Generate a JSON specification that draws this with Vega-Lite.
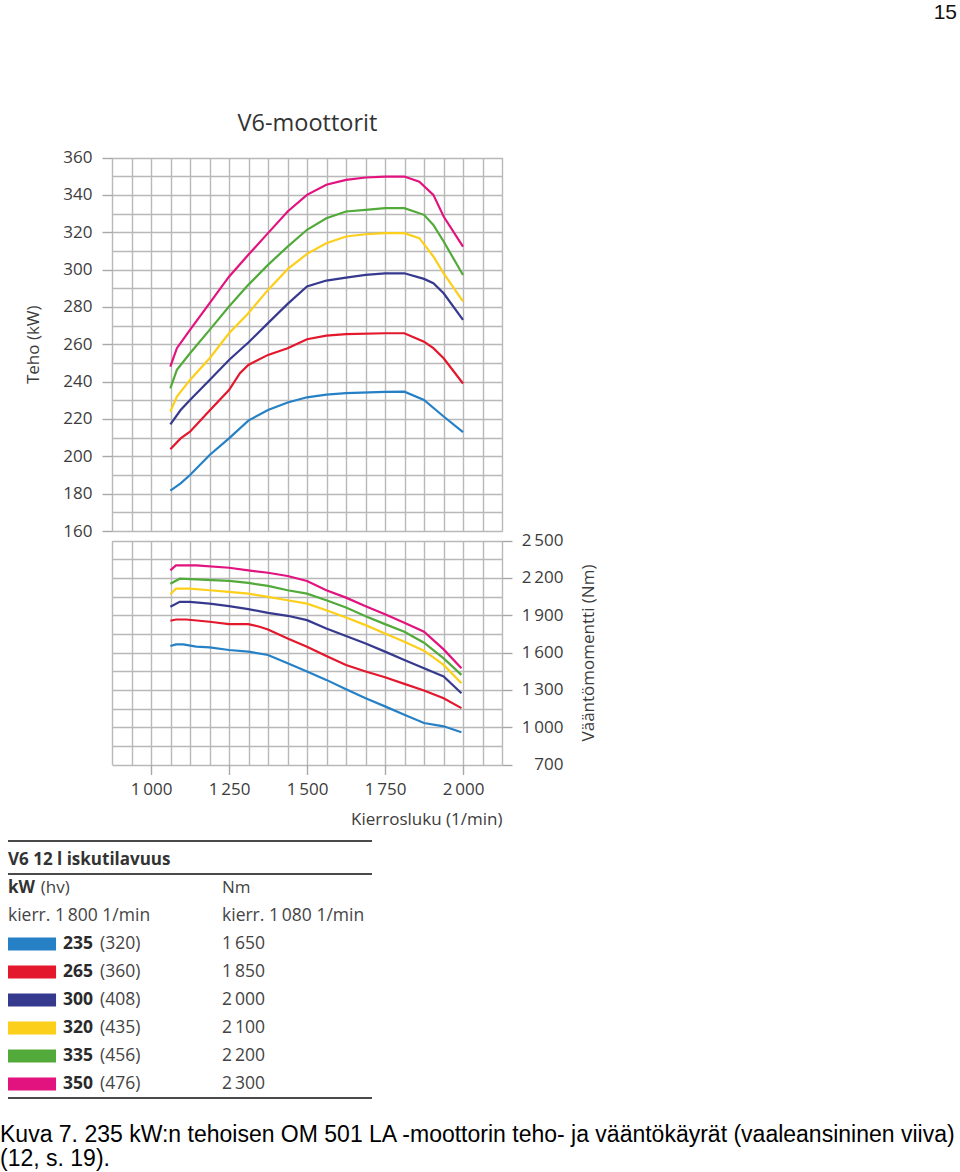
{
  "$schema": "https://vega.github.io/schema/vega-lite/v6.json",
  "width": 960,
  "height": 1172,
  "autosize": {"type": "none"},
  "padding": 0,
  "background": "white",
  "config": {
    "view": {"stroke": null},
    "locale": {"number": {"decimal": ",", "thousands": "\u2009", "grouping": [3], "currency": ["", " €"]}},
    "font": "Open Sans",
    "axis": {
      "labelFont": "Open Sans", "titleFont": "Open Sans",
      "labelFontSize": 17, "titleFontSize": 17, "titleFontWeight": "normal",
      "labelColor": "#3c3c3c", "titleColor": "#3c3c3c",
      "gridColor": "#b8b8b8", "gridWidth": 1.4, "gridOpacity": 1,
      "tickColor": "#a8a8a8", "tickWidth": 1.4
    }
  },
  "title": {
    "text": "15", "orient": "top", "anchor": "end", "frame": "group",
    "offset": -40, "baseline": "alphabetic", "dx": -3,
    "font": "Liberation Sans", "fontSize": 21, "fontWeight": "normal", "color": "#111"
  },
  "datasets": {
    "power": [
      {"engine": "235", "rpm": 1062, "kw": 181.6}, {"engine": "235", "rpm": 1095, "kw": 185.5}, {"engine": "235", "rpm": 1125, "kw": 190}, {"engine": "235", "rpm": 1188, "kw": 200.7}, {"engine": "235", "rpm": 1250, "kw": 209.6}, {"engine": "235", "rpm": 1312, "kw": 219.1}, {"engine": "235", "rpm": 1375, "kw": 224.8}, {"engine": "235", "rpm": 1438, "kw": 228.8}, {"engine": "235", "rpm": 1500, "kw": 231.6}, {"engine": "235", "rpm": 1562, "kw": 233}, {"engine": "235", "rpm": 1625, "kw": 233.8}, {"engine": "235", "rpm": 1750, "kw": 234.5}, {"engine": "235", "rpm": 1812, "kw": 234.6}, {"engine": "235", "rpm": 1875, "kw": 230.2}, {"engine": "235", "rpm": 1938, "kw": 221.3}, {"engine": "235", "rpm": 2000, "kw": 212.9},
      {"engine": "265", "rpm": 1062, "kw": 203.8}, {"engine": "265", "rpm": 1095, "kw": 209.6}, {"engine": "265", "rpm": 1125, "kw": 213.2}, {"engine": "265", "rpm": 1188, "kw": 224.5}, {"engine": "265", "rpm": 1250, "kw": 235.5}, {"engine": "265", "rpm": 1285, "kw": 244.5}, {"engine": "265", "rpm": 1312, "kw": 248.9}, {"engine": "265", "rpm": 1375, "kw": 254.3}, {"engine": "265", "rpm": 1438, "kw": 257.9}, {"engine": "265", "rpm": 1500, "kw": 262.7}, {"engine": "265", "rpm": 1562, "kw": 264.6}, {"engine": "265", "rpm": 1625, "kw": 265.4}, {"engine": "265", "rpm": 1750, "kw": 265.9}, {"engine": "265", "rpm": 1812, "kw": 265.9}, {"engine": "265", "rpm": 1875, "kw": 261.4}, {"engine": "265", "rpm": 1905, "kw": 257.9}, {"engine": "265", "rpm": 1938, "kw": 252.5}, {"engine": "265", "rpm": 2000, "kw": 239},
      {"engine": "300", "rpm": 1062, "kw": 217.1}, {"engine": "300", "rpm": 1095, "kw": 224.8}, {"engine": "300", "rpm": 1125, "kw": 230.2}, {"engine": "300", "rpm": 1188, "kw": 240.9}, {"engine": "300", "rpm": 1250, "kw": 251.6}, {"engine": "300", "rpm": 1312, "kw": 260.9}, {"engine": "300", "rpm": 1375, "kw": 271.3}, {"engine": "300", "rpm": 1438, "kw": 281.6}, {"engine": "300", "rpm": 1500, "kw": 290.9}, {"engine": "300", "rpm": 1562, "kw": 294.1}, {"engine": "300", "rpm": 1625, "kw": 295.7}, {"engine": "300", "rpm": 1688, "kw": 297.1}, {"engine": "300", "rpm": 1750, "kw": 298}, {"engine": "300", "rpm": 1812, "kw": 298}, {"engine": "300", "rpm": 1875, "kw": 295}, {"engine": "300", "rpm": 1905, "kw": 292.7}, {"engine": "300", "rpm": 1938, "kw": 287.3}, {"engine": "300", "rpm": 2000, "kw": 273},
      {"engine": "320", "rpm": 1062, "kw": 223.9}, {"engine": "320", "rpm": 1083, "kw": 232}, {"engine": "320", "rpm": 1125, "kw": 240.9}, {"engine": "320", "rpm": 1188, "kw": 252.5}, {"engine": "320", "rpm": 1250, "kw": 265.9}, {"engine": "320", "rpm": 1312, "kw": 276.6}, {"engine": "320", "rpm": 1375, "kw": 289.1}, {"engine": "320", "rpm": 1438, "kw": 300.2}, {"engine": "320", "rpm": 1500, "kw": 308.4}, {"engine": "320", "rpm": 1562, "kw": 314.1}, {"engine": "320", "rpm": 1625, "kw": 317.7}, {"engine": "320", "rpm": 1688, "kw": 318.9}, {"engine": "320", "rpm": 1750, "kw": 319.5}, {"engine": "320", "rpm": 1812, "kw": 319.5}, {"engine": "320", "rpm": 1860, "kw": 316.8}, {"engine": "320", "rpm": 1905, "kw": 307}, {"engine": "320", "rpm": 1938, "kw": 298}, {"engine": "320", "rpm": 2000, "kw": 282.9},
      {"engine": "335", "rpm": 1062, "kw": 236.4}, {"engine": "335", "rpm": 1083, "kw": 246.3}, {"engine": "335", "rpm": 1125, "kw": 255.2}, {"engine": "335", "rpm": 1188, "kw": 267.7}, {"engine": "335", "rpm": 1250, "kw": 280.2}, {"engine": "335", "rpm": 1312, "kw": 291.8}, {"engine": "335", "rpm": 1375, "kw": 302.5}, {"engine": "335", "rpm": 1438, "kw": 312.3}, {"engine": "335", "rpm": 1500, "kw": 321.3}, {"engine": "335", "rpm": 1562, "kw": 327.5}, {"engine": "335", "rpm": 1625, "kw": 331.1}, {"engine": "335", "rpm": 1688, "kw": 332}, {"engine": "335", "rpm": 1750, "kw": 332.9}, {"engine": "335", "rpm": 1812, "kw": 332.9}, {"engine": "335", "rpm": 1875, "kw": 329.3}, {"engine": "335", "rpm": 1905, "kw": 323.9}, {"engine": "335", "rpm": 1938, "kw": 315}, {"engine": "335", "rpm": 2000, "kw": 297.1},
      {"engine": "350", "rpm": 1062, "kw": 248}, {"engine": "350", "rpm": 1083, "kw": 257.9}, {"engine": "350", "rpm": 1125, "kw": 267.7}, {"engine": "350", "rpm": 1188, "kw": 282}, {"engine": "350", "rpm": 1250, "kw": 296.2}, {"engine": "350", "rpm": 1312, "kw": 307.9}, {"engine": "350", "rpm": 1375, "kw": 319.5}, {"engine": "350", "rpm": 1438, "kw": 331.1}, {"engine": "350", "rpm": 1500, "kw": 340}, {"engine": "350", "rpm": 1562, "kw": 345.4}, {"engine": "350", "rpm": 1625, "kw": 348}, {"engine": "350", "rpm": 1688, "kw": 349.3}, {"engine": "350", "rpm": 1750, "kw": 349.8}, {"engine": "350", "rpm": 1812, "kw": 349.8}, {"engine": "350", "rpm": 1860, "kw": 347.1}, {"engine": "350", "rpm": 1905, "kw": 340}, {"engine": "350", "rpm": 1938, "kw": 328.4}, {"engine": "350", "rpm": 2000, "kw": 312.3}
    ],
    "torque": [
      {"engine": "235", "rpm": 1062, "nm": 1652}, {"engine": "235", "rpm": 1080, "nm": 1665}, {"engine": "235", "rpm": 1103, "nm": 1665}, {"engine": "235", "rpm": 1145, "nm": 1647}, {"engine": "235", "rpm": 1188, "nm": 1641}, {"engine": "235", "rpm": 1250, "nm": 1620}, {"engine": "235", "rpm": 1312, "nm": 1607}, {"engine": "235", "rpm": 1375, "nm": 1580}, {"engine": "235", "rpm": 1438, "nm": 1513}, {"engine": "235", "rpm": 1500, "nm": 1447}, {"engine": "235", "rpm": 1562, "nm": 1380}, {"engine": "235", "rpm": 1625, "nm": 1305}, {"engine": "235", "rpm": 1688, "nm": 1233}, {"engine": "235", "rpm": 1750, "nm": 1167}, {"engine": "235", "rpm": 1812, "nm": 1100}, {"engine": "235", "rpm": 1875, "nm": 1033}, {"engine": "235", "rpm": 1938, "nm": 1007}, {"engine": "235", "rpm": 1995, "nm": 959},
      {"engine": "265", "rpm": 1062, "nm": 1855}, {"engine": "265", "rpm": 1080, "nm": 1865}, {"engine": "265", "rpm": 1113, "nm": 1865}, {"engine": "265", "rpm": 1188, "nm": 1847}, {"engine": "265", "rpm": 1250, "nm": 1828}, {"engine": "265", "rpm": 1312, "nm": 1828}, {"engine": "265", "rpm": 1348, "nm": 1807}, {"engine": "265", "rpm": 1375, "nm": 1785}, {"engine": "265", "rpm": 1438, "nm": 1713}, {"engine": "265", "rpm": 1500, "nm": 1647}, {"engine": "265", "rpm": 1562, "nm": 1572}, {"engine": "265", "rpm": 1625, "nm": 1500}, {"engine": "265", "rpm": 1688, "nm": 1447}, {"engine": "265", "rpm": 1750, "nm": 1401}, {"engine": "265", "rpm": 1812, "nm": 1348}, {"engine": "265", "rpm": 1875, "nm": 1295}, {"engine": "265", "rpm": 1938, "nm": 1233}, {"engine": "265", "rpm": 1995, "nm": 1153},
      {"engine": "300", "rpm": 1062, "nm": 1967}, {"engine": "300", "rpm": 1092, "nm": 2007}, {"engine": "300", "rpm": 1124, "nm": 2007}, {"engine": "300", "rpm": 1188, "nm": 1993}, {"engine": "300", "rpm": 1250, "nm": 1972}, {"engine": "300", "rpm": 1312, "nm": 1948}, {"engine": "300", "rpm": 1375, "nm": 1919}, {"engine": "300", "rpm": 1438, "nm": 1895}, {"engine": "300", "rpm": 1500, "nm": 1860}, {"engine": "300", "rpm": 1562, "nm": 1793}, {"engine": "300", "rpm": 1625, "nm": 1732}, {"engine": "300", "rpm": 1688, "nm": 1673}, {"engine": "300", "rpm": 1750, "nm": 1607}, {"engine": "300", "rpm": 1812, "nm": 1540}, {"engine": "300", "rpm": 1875, "nm": 1473}, {"engine": "300", "rpm": 1938, "nm": 1407}, {"engine": "300", "rpm": 1995, "nm": 1273},
      {"engine": "320", "rpm": 1062, "nm": 2068}, {"engine": "320", "rpm": 1080, "nm": 2113}, {"engine": "320", "rpm": 1124, "nm": 2113}, {"engine": "320", "rpm": 1188, "nm": 2100}, {"engine": "320", "rpm": 1250, "nm": 2087}, {"engine": "320", "rpm": 1312, "nm": 2073}, {"engine": "320", "rpm": 1375, "nm": 2047}, {"engine": "320", "rpm": 1438, "nm": 2020}, {"engine": "320", "rpm": 1500, "nm": 1993}, {"engine": "320", "rpm": 1562, "nm": 1940}, {"engine": "320", "rpm": 1625, "nm": 1881}, {"engine": "320", "rpm": 1688, "nm": 1820}, {"engine": "320", "rpm": 1750, "nm": 1753}, {"engine": "320", "rpm": 1812, "nm": 1687}, {"engine": "320", "rpm": 1875, "nm": 1615}, {"engine": "320", "rpm": 1938, "nm": 1500}, {"engine": "320", "rpm": 1995, "nm": 1353},
      {"engine": "335", "rpm": 1062, "nm": 2153}, {"engine": "335", "rpm": 1092, "nm": 2193}, {"engine": "335", "rpm": 1145, "nm": 2188}, {"engine": "335", "rpm": 1250, "nm": 2175}, {"engine": "335", "rpm": 1312, "nm": 2159}, {"engine": "335", "rpm": 1375, "nm": 2135}, {"engine": "335", "rpm": 1438, "nm": 2100}, {"engine": "335", "rpm": 1500, "nm": 2073}, {"engine": "335", "rpm": 1562, "nm": 2020}, {"engine": "335", "rpm": 1625, "nm": 1961}, {"engine": "335", "rpm": 1688, "nm": 1892}, {"engine": "335", "rpm": 1750, "nm": 1828}, {"engine": "335", "rpm": 1812, "nm": 1767}, {"engine": "335", "rpm": 1875, "nm": 1679}, {"engine": "335", "rpm": 1938, "nm": 1553}, {"engine": "335", "rpm": 1995, "nm": 1420},
      {"engine": "350", "rpm": 1062, "nm": 2260}, {"engine": "350", "rpm": 1080, "nm": 2300}, {"engine": "350", "rpm": 1145, "nm": 2300}, {"engine": "350", "rpm": 1250, "nm": 2281}, {"engine": "350", "rpm": 1312, "nm": 2260}, {"engine": "350", "rpm": 1375, "nm": 2241}, {"engine": "350", "rpm": 1438, "nm": 2215}, {"engine": "350", "rpm": 1500, "nm": 2175}, {"engine": "350", "rpm": 1562, "nm": 2100}, {"engine": "350", "rpm": 1625, "nm": 2041}, {"engine": "350", "rpm": 1688, "nm": 1972}, {"engine": "350", "rpm": 1750, "nm": 1908}, {"engine": "350", "rpm": 1812, "nm": 1839}, {"engine": "350", "rpm": 1875, "nm": 1767}, {"engine": "350", "rpm": 1938, "nm": 1625}, {"engine": "350", "rpm": 1995, "nm": 1473}
    ],
    "legend": [
      {"engine": "235", "kw": 235, "hv": 320, "nm": 1650},
      {"engine": "265", "kw": 265, "hv": 360, "nm": 1850},
      {"engine": "300", "kw": 300, "hv": 408, "nm": 2000},
      {"engine": "320", "kw": 320, "hv": 435, "nm": 2100},
      {"engine": "335", "kw": 335, "hv": 456, "nm": 2200},
      {"engine": "350", "kw": 350, "hv": 476, "nm": 2300}
    ],
    "caption": [
      {"line": 1, "text": "Kuva 7. 235 kW:n tehoisen OM 501 LA -moottorin teho- ja vääntökäyrät (vaaleansininen viiva)"},
      {"line": 2, "text": "(12, s. 19)."}
    ]
  },
  "layer": [
    {
      "data": {"name": "power"},
      "mark": {"type": "line", "strokeWidth": 2.2},
      "encoding": {
        "x": {
          "field": "rpm", "type": "quantitative",
          "scale": {"domain": [875, 2125], "range": [112, 502], "nice": false, "zero": false},
          "axis": {
            "orient": "top", "offset": -157.5,
            "values": [875, 937.5, 1000, 1062.5, 1125, 1187.5, 1250, 1312.5, 1375, 1437.5, 1500, 1562.5, 1625, 1687.5, 1750, 1812.5, 1875, 1937.5, 2000, 2062.5, 2125],
            "grid": true, "labels": false, "ticks": false, "domain": false,
            "title": "V6-moottorit", "titlePadding": 22, "titleFontSize": 23.5, "titleColor": "#333"
          }
        },
        "y": {
          "field": "kw", "type": "quantitative",
          "scale": {"domain": [160, 360], "range": [531, 157.5], "nice": false, "zero": false},
          "axis": {
            "orient": "left", "offset": -112,
            "values": [160, 170, 180, 190, 200, 210, 220, 230, 240, 250, 260, 270, 280, 290, 300, 310, 320, 330, 340, 350, 360],
            "grid": true, "domain": false, "tickSize": 10,
            "tickOpacity": {"condition": {"test": "datum.value % 20 == 0", "value": 1}, "value": 0},
            "labelExpr": "datum.value % 20 == 0 ? datum.label : ''",
            "labelPadding": 10, "labelFontSize": 17,
            "title": "Teho (kW)", "titlePadding": 20
          }
        },
        "color": {
          "field": "engine", "type": "nominal",
          "scale": {"domain": ["235", "265", "300", "320", "335", "350"], "range": ["#2680c6", "#e3182d", "#363a8e", "#fccf1a", "#52aa3a", "#e2137f"]},
          "legend": null
        }
      }
    },
    {
      "data": {"name": "torque"},
      "layer": [
        {
          "mark": {"type": "line", "opacity": 0},
          "encoding": {
            "x": {
              "field": "rpm", "type": "quantitative",
              "scale": {"domain": [875, 2125], "range": [112, 502], "nice": false, "zero": false},
              "axis": {
                "orient": "top",
                "values": [875, 937.5, 1000, 1062.5, 1125, 1187.5, 1250, 1312.5, 1375, 1437.5, 1500, 1562.5, 1625, 1687.5, 1750, 1812.5, 1875, 1937.5, 2000, 2062.5, 2125],
                "grid": true, "labels": false, "ticks": false, "domain": false, "title": null
              }
            },
            "y": {
              "field": "nm", "type": "quantitative",
              "scale": {"domain": [700, 2500], "range": [764.5, 540.5], "nice": false, "zero": false},
              "axis": {
                "orient": "left",
                "values": [700, 850, 1000, 1150, 1300, 1450, 1600, 1750, 1900, 2050, 2200, 2350, 2500],
                "grid": true, "labels": false, "ticks": false, "domain": false, "title": null
              }
            }
          }
        },
        {
          "mark": {"type": "line", "strokeWidth": 2.2},
          "encoding": {
            "x": {
              "field": "rpm", "type": "quantitative",
              "scale": {"domain": [875, 2125], "range": [112, 502], "nice": false, "zero": false},
              "axis": {
                "orient": "bottom", "offset": -407.5,
                "values": [1000, 1250, 1500, 1750, 2000], "format": ",d",
                "grid": false, "domain": false, "tickSize": 10, "labelPadding": 7,
                "title": "Kierrosluku (1/min)", "titleAnchor": "end", "titlePadding": 14
              }
            },
            "y": {
              "field": "nm", "type": "quantitative",
              "scale": {"domain": [700, 2500], "range": [764.5, 540.5], "nice": false, "zero": false},
              "axis": {
                "orient": "right", "offset": -458,
                "values": [700, 1000, 1300, 1600, 1900, 2200, 2500], "format": ",d",
                "grid": false, "domain": false, "tickSize": 10,
                "labelAlign": "right", "labelPadding": 51, "labelBaseline": "middle",
                "title": "Vääntömomentti (Nm)", "titleAngle": 270, "titleBaseline": "top", "titlePadding": 17
              }
            },
            "color": {
              "field": "engine", "type": "nominal",
              "scale": {"domain": ["235", "265", "300", "320", "335", "350"], "range": ["#2680c6", "#e3182d", "#363a8e", "#fccf1a", "#52aa3a", "#e2137f"]},
              "legend": null
            }
          }
        }
      ],
      "resolve": {"scale": {"x": "shared", "y": "shared"}, "axis": {"x": "independent", "y": "independent"}}
    },
    {
      "data": {"name": "legend"},
      "layer": [
        {
          "mark": {"type": "bar", "height": {"band": 0.47}},
          "encoding": {
            "x": {"datum": 0, "type": "quantitative", "scale": {"domain": [0, 1], "range": [8, 372], "nice": false, "zero": false}, "axis": null},
            "x2": {"datum": 0.132},
            "y": {"field": "engine", "type": "nominal", "scale": {"type": "band", "domain": ["title", "head1", "head2", "235", "265", "300", "320", "335", "350"], "range": [846, 1098], "paddingInner": 0, "paddingOuter": 0}, "axis": null},
            "color": {
              "field": "engine", "type": "nominal",
              "scale": {"domain": ["235", "265", "300", "320", "335", "350"], "range": ["#1c78c0", "#e30b1c", "#2e3288", "#ffcc05", "#4fa93a", "#e2097e"]},
              "legend": null
            }
          }
        },
        {
          "mark": {"type": "text", "align": "left", "baseline": "middle", "font": "Open Sans", "fontSize": 17.5, "fontWeight": "bold", "color": "#2a2a2a"},
          "encoding": {
            "x": {"datum": 0.151, "type": "quantitative", "axis": null},
            "y": {"field": "engine", "type": "nominal", "axis": null},
            "text": {"field": "kw", "type": "quantitative", "format": "d"}
          }
        },
        {
          "mark": {"type": "text", "align": "left", "baseline": "middle", "font": "Open Sans", "fontSize": 17.5, "color": "#444", "text": {"expr": "'(' + datum.hv + ')'"}},
          "encoding": {
            "x": {"datum": 0.253, "type": "quantitative", "axis": null},
            "y": {"field": "engine", "type": "nominal", "axis": null}
          }
        },
        {
          "mark": {"type": "text", "align": "left", "baseline": "middle", "font": "Open Sans", "fontSize": 17.5, "color": "#444"},
          "encoding": {
            "x": {"datum": 0.588, "type": "quantitative", "axis": null},
            "y": {"field": "engine", "type": "nominal", "axis": null},
            "text": {"field": "nm", "type": "quantitative", "format": ",d"}
          }
        },
        {
          "data": {"values": [{"label": "V6 12 l iskutilavuus"}]},
          "mark": {"type": "text", "align": "left", "baseline": "middle", "font": "Open Sans", "fontSize": 17, "fontWeight": "bold", "color": "#333"},
          "encoding": {
            "x": {"datum": 0, "type": "quantitative", "axis": null},
            "y": {"datum": "title", "type": "nominal", "axis": null},
            "text": {"field": "label", "type": "nominal"}
          }
        },
        {
          "data": {"values": [{"label": "kW"}]},
          "mark": {"type": "text", "align": "left", "baseline": "middle", "font": "Open Sans", "fontSize": 17, "fontWeight": "bold", "color": "#333"},
          "encoding": {
            "x": {"datum": 0, "type": "quantitative", "axis": null},
            "y": {"datum": "head1", "type": "nominal", "axis": null},
            "text": {"field": "label", "type": "nominal"}
          }
        },
        {
          "data": {"values": [{"label": "(hv)"}]},
          "mark": {"type": "text", "align": "left", "baseline": "middle", "font": "Open Sans", "fontSize": 17, "color": "#444"},
          "encoding": {
            "x": {"datum": 0.09, "type": "quantitative", "axis": null},
            "y": {"datum": "head1", "type": "nominal", "axis": null},
            "text": {"field": "label", "type": "nominal"}
          }
        },
        {
          "data": {"values": [{"label": "Nm"}]},
          "mark": {"type": "text", "align": "left", "baseline": "middle", "font": "Open Sans", "fontSize": 17, "color": "#444"},
          "encoding": {
            "x": {"datum": 0.588, "type": "quantitative", "axis": null},
            "y": {"datum": "head1", "type": "nominal", "axis": null},
            "text": {"field": "label", "type": "nominal"}
          }
        },
        {
          "data": {"values": [{"label": "kierr. 1\u2009800 1/min"}]},
          "mark": {"type": "text", "align": "left", "baseline": "middle", "font": "Open Sans", "fontSize": 17.5, "color": "#444"},
          "encoding": {
            "x": {"datum": 0, "type": "quantitative", "axis": null},
            "y": {"datum": "head2", "type": "nominal", "axis": null},
            "text": {"field": "label", "type": "nominal"}
          }
        },
        {
          "data": {"values": [{"label": "kierr. 1\u2009080 1/min"}]},
          "mark": {"type": "text", "align": "left", "baseline": "middle", "font": "Open Sans", "fontSize": 17.5, "color": "#444"},
          "encoding": {
            "x": {"datum": 0.588, "type": "quantitative", "axis": null},
            "y": {"datum": "head2", "type": "nominal", "axis": null},
            "text": {"field": "label", "type": "nominal"}
          }
        },
        {
          "data": {"values": [{"label": "top"}]},
          "mark": {"type": "rule", "strokeWidth": 2, "color": "#4a4a4a", "yOffset": -5},
          "encoding": {
            "x": {"datum": 0, "type": "quantitative", "axis": null},
            "x2": {"datum": 1},
            "y": {"datum": "title", "type": "nominal", "bandPosition": 0, "axis": null}
          }
        },
        {
          "data": {"values": [{"label": "mid"}]},
          "mark": {"type": "rule", "strokeWidth": 2, "color": "#4a4a4a"},
          "encoding": {
            "x": {"datum": 0, "type": "quantitative", "axis": null},
            "x2": {"datum": 1},
            "y": {"datum": "head1", "type": "nominal", "bandPosition": 0, "axis": null}
          }
        },
        {
          "data": {"values": [{"label": "bottom"}]},
          "mark": {"type": "rule", "strokeWidth": 2, "color": "#4a4a4a"},
          "encoding": {
            "x": {"datum": 0, "type": "quantitative", "axis": null},
            "x2": {"datum": 1},
            "y": {"datum": "350", "type": "nominal", "bandPosition": 1, "axis": null}
          }
        }
      ]
    },
    {
      "data": {"name": "caption"},
      "mark": {"type": "text", "align": "left", "baseline": "alphabetic", "font": "Liberation Sans", "fontSize": 23, "color": "#000"},
      "encoding": {
        "x": {"datum": 0, "type": "quantitative", "scale": {"domain": [0, 1], "range": [0, 960], "nice": false, "zero": false}, "axis": null},
        "y": {"field": "line", "type": "ordinal", "scale": {"type": "point", "domain": [1, 2], "range": [1142, 1166], "padding": 0}, "axis": null},
        "text": {"field": "text", "type": "nominal"}
      }
    }
  ],
  "resolve": {
    "scale": {"x": "independent", "y": "independent"},
    "axis": {"x": "independent", "y": "independent"}
  }
}
